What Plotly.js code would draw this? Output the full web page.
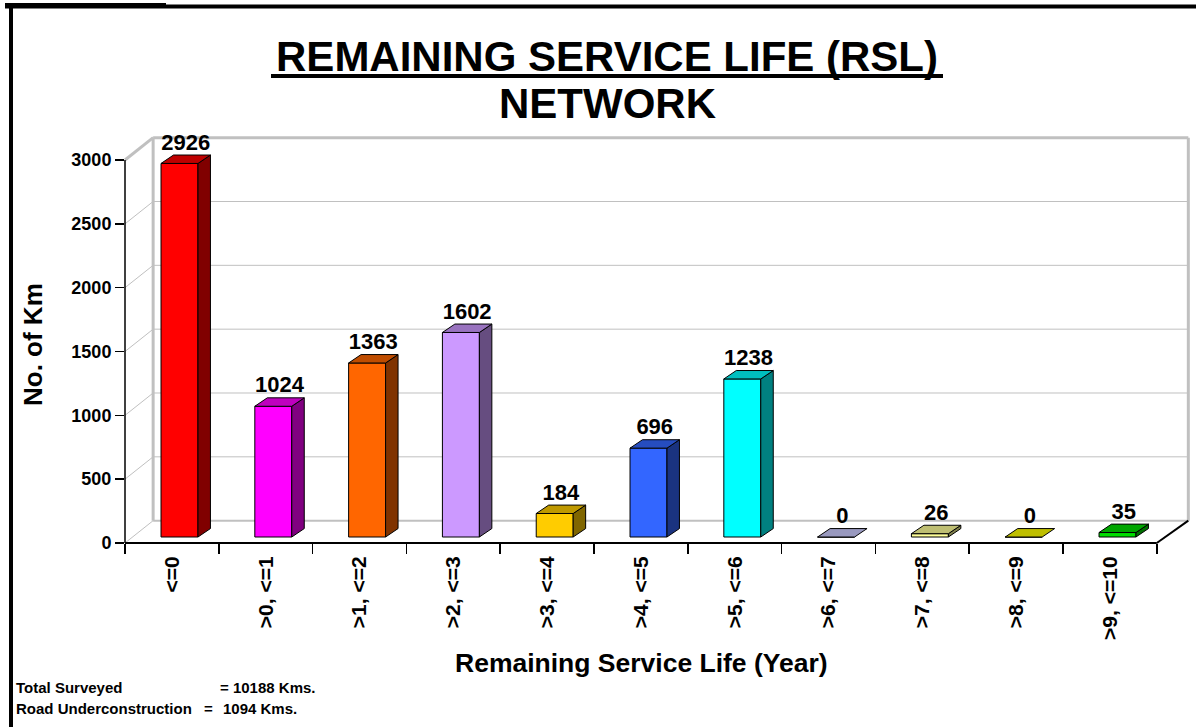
<!DOCTYPE html>
<html>
<head>
<meta charset="utf-8">
<script src="https://cdn.plot.ly/plotly-3.0.1.min.js"></script>
<style>html,body{margin:0;padding:0;background:#fff;}#chart{width:1196px;height:727px;}</style>
</head>
<body>
<div id="chart"></div>
<script>
// ---- data ----
const categories = ['<=0', '>0, <=1', '>1, <=2', '>2, <=3', '>3, <=4', '>4, <=5',
                    '>5, <=6', '>6, <=7', '>7, <=8', '>8, <=9', '>9, <=10'];
const kmValues = [2926, 1024, 1363, 1602, 184, 696, 1238, 0, 26, 0, 35];
const barColors = ['#FF0000', '#FF00FF', '#FF6600', '#CC99FF', '#FFCC00', '#3366FF',
                   '#00FFFF', '#CCCCFF', '#FFFF99', '#FFFF00', '#00DD00'];
const yTickValues = [0, 500, 1000, 1500, 2000, 2500, 3000];
const noteLabels = ['Total Surveyed', 'Road Underconstruction'];
const noteValues = ['10188 Kms.', '1094 Kms.'];

// ---- layout geometry (style only) ----
const W = 1196, H = 727;
const ML = 125, MR = 2, MT = 125, MB = 184;
const PW = W - ML - MR, PH = H - MT - MB;
const CAT_PX = 93.8;
const Y_PX = 383 / 3000;
const XMIN = -0.5, XMAX = XMIN + PW / CAT_PX;
const YMAX = PH / Y_PX;
const FRONT_L = -0.116, FRONT_W = 0.394;
const BASE = 47;             // bars sit slightly back on the floor
const DX = 0.133, DY = 66;   // bar depth
const WDX = 0.30, WDY = 175; // back wall offset
const WALL_R = 10.5 + 0.336;

function shade(hex, f) {
  const n = parseInt(hex.slice(1), 16);
  const r = Math.round(((n >> 16) & 255) * f), g = Math.round(((n >> 8) & 255) * f), b = Math.round((n & 255) * f);
  return 'rgb(' + r + ',' + g + ',' + b + ')';
}
const px2x = p => (p - ML) / PW;
const px2y = p => (H - MB - p) / PH;
const dx2p = x => (x - XMIN) / (XMAX - XMIN);
const dy2p = y => y / YMAX;

const traces = [];
// front faces
traces.push({
  type: 'bar',
  x: kmValues.map((v, i) => i + FRONT_L + FRONT_W / 2),
  y: kmValues,
  base: kmValues.map(() => BASE),
  width: FRONT_W,
  marker: {color: barColors, line: {color: '#000', width: 1}},
  hoverinfo: 'skip', showlegend: false
});
// side & top faces
kmValues.forEach((v, i) => {
  const xl = i + FRONT_L, xr = xl + FRONT_W;
  const yb = BASE, yt = BASE + v;
  if (v > 0) {
    traces.push({
      type: 'scatter', mode: 'lines', fill: 'toself',
      x: [xr, xr + DX, xr + DX, xr, xr],
      y: [yb, yb + DY, yt + DY, yt, yb],
      fillcolor: shade(barColors[i], 0.5),
      line: {color: '#000', width: 1}, hoverinfo: 'skip', showlegend: false
    });
  }
  traces.push({
    type: 'scatter', mode: 'lines', fill: 'toself',
    x: [xl, xr, xr + DX, xl + DX, xl],
    y: [yt, yt, yt + DY, yt + DY, yt],
    fillcolor: shade(barColors[i], 0.75),
    line: {color: '#000', width: 1}, hoverinfo: 'skip', showlegend: false
  });
});
// value labels
traces.push({
  type: 'scatter', mode: 'text',
  x: kmValues.map((v, i) => i + FRONT_L + FRONT_W / 2 + DX / 2),
  y: kmValues.map(v => BASE + v + DY),
  text: kmValues.map(String),
  textposition: 'top center',
  textfont: {family: 'Liberation Sans, Arial, sans-serif', size: 22, color: '#000', weight: 'bold'},
  cliponaxis: false, hoverinfo: 'skip', showlegend: false
});

const shapes = [];
const gray = '#C0C0C0';
function line(x0, y0, x1, y1, color, width, layer) {
  shapes.push({type: 'line', xref: 'paper', yref: 'paper', x0: x0, y0: y0, x1: x1, y1: y1,
               line: {color: color, width: width}, layer: layer || 'below'});
}
// back wall gridlines & left wall diagonals
yTickValues.forEach(t => {
  if (t > 0 && t < 3000) line(dx2p(XMIN + WDX), dy2p(t + WDY), dx2p(WALL_R), dy2p(t + WDY), gray, 1);
  line(dx2p(XMIN), dy2p(t), dx2p(XMIN + WDX), dy2p(t + WDY), gray, t === 3000 ? 3 : 1);
});
// wall frame
line(dx2p(XMIN + WDX), dy2p(3000 + WDY), dx2p(WALL_R), dy2p(3000 + WDY), gray, 3);
line(dx2p(XMIN + WDX), dy2p(WDY), dx2p(XMIN + WDX), dy2p(3000 + WDY), gray, 3);
line(dx2p(WALL_R), dy2p(WDY), dx2p(WALL_R), dy2p(3000 + WDY), gray, 3);
line(dx2p(XMIN + WDX), dy2p(WDY), dx2p(WALL_R), dy2p(WDY), gray, 2);
// axis lines
line(0, 0, 0, dy2p(3000), '#000', 1.5, 'above');
line(0, 0, dx2p(10.5), 0, '#000', 2, 'above');
line(dx2p(10.5), 0, dx2p(WALL_R), dy2p(WDY), '#000', 2, 'above');
// outer frame
line(px2x(5), px2y(6.5), px2x(W), px2y(6.5), '#000', 4, 'above');
line(px2x(5), px2y(5.5), px2x(166), px2y(5.5), '#000', 5, 'above');
line(px2x(11), px2y(5), px2x(11), px2y(H), '#000', 4, 'above');
// title underline
line(px2x(271), px2y(76), px2x(943), px2y(76), '#000', 4, 'above');

const FONT = 'Liberation Sans, Arial, sans-serif';
const annotations = [
  {text: 'NETWORK', xref: 'paper', yref: 'paper', x: px2x(607), y: px2y(103), xanchor: 'center', yanchor: 'middle',
   showarrow: false, font: {family: FONT, size: 42, color: '#000', weight: 'bold'}},
  {text: 'No. of Km', xref: 'paper', yref: 'paper', x: px2x(33), y: px2y(345), xanchor: 'center', yanchor: 'middle',
   textangle: -90, showarrow: false, font: {family: FONT, size: 26, color: '#000', weight: 'bold'}},
  {text: 'Remaining Service Life (Year)', xref: 'paper', yref: 'paper', x: px2x(641), y: px2y(663), xanchor: 'center', yanchor: 'middle',
   showarrow: false, font: {family: FONT, size: 26.5, color: '#000', weight: 'bold'}},
  {text: noteLabels[0], xref: 'paper', yref: 'paper', x: px2x(14), y: px2y(687), xanchor: 'left', yanchor: 'middle',
   showarrow: false, font: {family: FONT, size: 15, color: '#000', weight: 'bold'}},
  {text: '= ' + noteValues[0], xref: 'paper', yref: 'paper', x: px2x(218), y: px2y(687), xanchor: 'left', yanchor: 'middle',
   showarrow: false, font: {family: FONT, size: 15, color: '#000', weight: 'bold'}},
  {text: noteLabels[1], xref: 'paper', yref: 'paper', x: px2x(14), y: px2y(708), xanchor: 'left', yanchor: 'middle',
   showarrow: false, font: {family: FONT, size: 15, color: '#000', weight: 'bold'}},
  {text: '=', xref: 'paper', yref: 'paper', x: px2x(202), y: px2y(708), xanchor: 'left', yanchor: 'middle',
   showarrow: false, font: {family: FONT, size: 15, color: '#000', weight: 'bold'}},
  {text: noteValues[1], xref: 'paper', yref: 'paper', x: px2x(221), y: px2y(708), xanchor: 'left', yanchor: 'middle',
   showarrow: false, font: {family: FONT, size: 15, color: '#000', weight: 'bold'}}
];

const layout = {
  width: W, height: H,
  margin: {l: ML, r: MR, t: MT, b: MB, pad: 0},
  paper_bgcolor: '#fff', plot_bgcolor: '#fff',
  showlegend: false,
  font: {family: FONT, color: '#000'},
  title: {text: 'REMAINING SERVICE LIFE (RSL)', xref: 'container', yref: 'container',
          x: 607 / W, y: 1 - 56 / H, xanchor: 'center', yanchor: 'middle',
          font: {family: FONT, size: 42, color: '#000', weight: 'bold'}},
  xaxis: {
    range: [XMIN, XMAX], showgrid: false, zeroline: false, showline: false,
    tickmode: 'array', tickvals: categories.map((c, i) => i), ticktext: categories,
    tickangle: -90, ticks: 'outside', ticklen: 4, tickcolor: 'rgba(0,0,0,0)',
    tickfont: {family: FONT, size: 21, color: '#000', weight: 'bold'},
    minor: {tick0: -0.5, dtick: 1, ticks: 'outside', ticklen: 10, tickcolor: '#000', tickwidth: 1.5, showgrid: false},
    fixedrange: true
  },
  yaxis: {
    range: [0, YMAX], showgrid: false, zeroline: false, showline: false,
    tickmode: 'array', tickvals: yTickValues,
    ticks: 'outside', ticklen: 9, tickwidth: 1.5, tickcolor: '#000',
    tickfont: {family: FONT, size: 18, color: '#000', weight: 'bold'},
    fixedrange: true
  },
  bargap: 0,
  shapes: shapes,
  annotations: annotations
};

Plotly.newPlot('chart', traces, layout, {displayModeBar: false, staticPlot: true});
</script>
</body>
</html>
